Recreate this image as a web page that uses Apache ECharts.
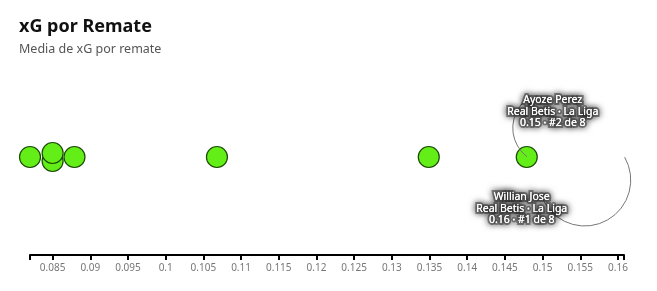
<!DOCTYPE html>
<html>
<head>
<meta charset="utf-8">
<script src="https://cdn.jsdelivr.net/npm/echarts@6/dist/echarts.min.js"></script>
<style>
  html, body { margin: 0; padding: 0; background: #fff; }
  #chart { width: 657px; height: 291px; }
</style>
</head>
<body>
<div id="chart"></div>
<script>
// ---- data ----
const xgValues = [0.082, 0.085, 0.085, 0.0879, 0.1068, 0.1349, 0.1479, 0.1609];
const tickValues = [0.085, 0.09, 0.095, 0.1, 0.105, 0.11, 0.115, 0.12, 0.125, 0.13, 0.135, 0.14, 0.145, 0.15, 0.155, 0.16];
const axisMin = 0.082;
const axisMax = 0.1608;
const annotNames = ['Ayoze Perez', 'Willian Jose'];
const annotValues = [0.1479, 0.1609];
const annotRanks = [2, 1];
const annotTeam = 'Real Betis · La Liga';
const totalPlayers = 8;

// ---- simple beeswarm offsets for coincident values ----
const groups = {};
xgValues.forEach((v, i) => { (groups[v] = groups[v] || []).push(i); });
const points = [];
Object.keys(groups).forEach(k => {
  const idx = groups[k];
  const n = idx.length;
  idx.forEach((i, j) => {
    const off = (n - 1) * 4 - j * 8; // first drawn lower, last drawn upper
    points.push({ value: [xgValues[i], 0], symbolOffset: [0, off] });
  });
});

// annotation geometry (style, relative to the point)
const annotLayout = [
  { label: [26, -45], arc: { c: [22, -29], r: 36, a0: 2.22, a1: 4.0 } },
  { label: [-103, 52], arc: { c: [-40, 23], r: 46, a0: -0.52, a1: 2.82 } }
];

const chart = echarts.init(document.getElementById('chart'), null, { renderer: 'canvas' });
chart.setOption({
  animation: false,
  title: {
    text: 'xG por Remate',
    subtext: 'Media de xG por remate',
    left: 14,
    top: 13,
    itemGap: 7,
    textStyle: { fontFamily: 'Noto Sans', fontSize: 18, fontWeight: 'bold', color: '#111' },
    subtextStyle: { fontFamily: 'Noto Sans', fontSize: 12.5, color: '#555' }
  },
  grid: { left: 30, right: 33, top: 59, bottom: 36 },
  xAxis: {
    type: 'value',
    min: axisMin,
    max: axisMax,
    splitLine: { show: false },
    axisLine: { show: true, onZero: false, lineStyle: { color: '#000', width: 2 } },
    axisTick: {
      show: true, length: 5, inside: false,
      lineStyle: { color: '#000', width: 2 },
      customValues: [axisMin].concat(tickValues, [axisMax])
    },
    axisLabel: {
      customValues: tickValues,
      margin: 8,
      color: '#777',
      fontFamily: 'Noto Sans',
      fontSize: 10,
      formatter: v => String(parseFloat(v.toFixed(3)))
    }
  },
  yAxis: { type: 'value', min: -1, max: 1, show: false },
  series: [
    {
      type: 'scatter',
      data: points,
      symbol: 'circle',
      symbolSize: 21,
      itemStyle: { color: '#64ee17', borderColor: '#1b4a06', borderWidth: 1.2, opacity: 1 },
      z: 2
    },
    {
      type: 'custom',
      z: 3,
      data: annotValues.map((v, i) => [v, 0, i]),
      renderItem: function (params, api) {
        const i = api.value(2);
        const p = api.coord([api.value(0), api.value(1)]);
        const L = annotLayout[i];
        const text = annotNames[i] + '\n' + annotTeam + '\n' +
          api.value(0).toFixed(2) + ' · #' + annotRanks[i] + ' de ' + totalPlayers;
        const textStyle = {
          text: text,
          x: p[0] + L.label[0],
          y: p[1] + L.label[1],
          align: 'center',
          verticalAlign: 'middle',
          fontFamily: 'Noto Sans',
          fontSize: 10.5,
          lineHeight: 11.5,
          fill: '#fff',
          stroke: 'rgba(60,60,60,0.55)',
          lineWidth: 4,
          textShadowColor: 'rgba(0,0,0,1)',
          textShadowBlur: 7,
          shadowColor: 'rgba(0,0,0,1)',
          shadowBlur: 7
        };
        return {
          type: 'group',
          children: [
            {
              type: 'arc',
              shape: {
                cx: p[0] + L.arc.c[0], cy: p[1] + L.arc.c[1], r: L.arc.r,
                startAngle: L.arc.a0, endAngle: L.arc.a1, clockwise: true
              },
              style: { stroke: '#777', fill: null, lineWidth: 1 }
            },
            { type: 'text', style: textStyle },
            { type: 'text', style: Object.assign({}, textStyle, { stroke: null, lineWidth: 0, shadowBlur: 0, textShadowBlur: 0 }) }
          ]
        };
      }
    }
  ]
});
</script>
</body>
</html>
